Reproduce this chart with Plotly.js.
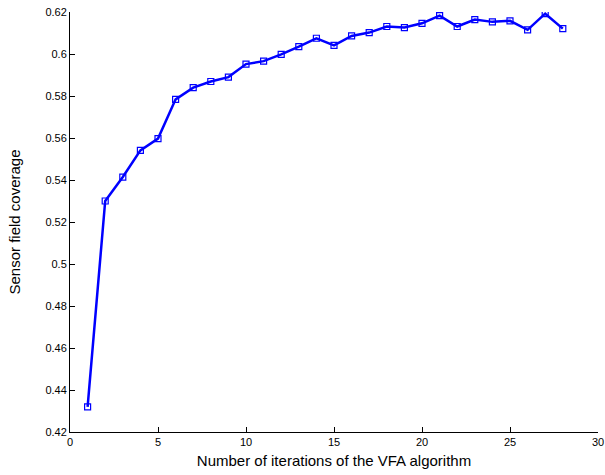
<!DOCTYPE html>
<html>
<head>
<meta charset="utf-8">
<script src="https://cdn.plot.ly/plotly-3.0.1.min.js"></script>
<style>html,body{margin:0;padding:0;background:#fff;}#chart{width:605px;height:475px;}</style>
</head>
<body>
<div id="chart"></div>
<script>
const iterations = [1,2,3,4,5,6,7,8,9,10,11,12,13,14,15,16,17,18,19,20,21,22,23,24,25,26,27,28];
const coverage = [0.432,0.530,0.5414,0.5541,0.5597,0.5784,0.584,0.5869,0.589,0.5952,0.5966,0.5998,0.6035,0.6075,0.6041,0.6086,0.6102,0.6131,0.6126,0.6146,0.6183,0.6131,0.6164,0.6153,0.6158,0.6115,0.6192,0.6121];
const xTickVals = [0,5,10,15,20,25,30];
const yTickVals = [0.42,0.44,0.46,0.48,0.5,0.52,0.54,0.56,0.58,0.6,0.62];
const yTickText = ["0.42","0.44","0.46","0.48","0.5","0.52","0.54","0.56","0.58","0.6","0.62"];

const trace = {
  x: iterations, y: coverage, type: 'scatter', mode: 'lines+markers',
  line: {color: '#0000ff', width: 2.5},
  marker: {symbol: 'square-open', size: 6, color: '#0000ff', line: {width: 1.2, color: '#0000ff'}},
  hoverinfo: 'none'
};
const font = {family: 'Liberation Sans, Arial, sans-serif', color: '#000'};
const layout = {
  width: 605, height: 475,
  margin: {l: 70, r: 7, t: 12, b: 43},
  paper_bgcolor: '#fff', plot_bgcolor: '#fff',
  showlegend: false,
  font: Object.assign({size: 11}, font),
  xaxis: {
    range: [0, 30], tickvals: xTickVals, ticks: 'inside', ticklen: 5, tickwidth: 1, tickcolor: '#000',
    showline: true, linecolor: '#000', linewidth: 1, mirror: false, showgrid: false, zeroline: false,
    tickfont: Object.assign({size: 11}, font),
    title: {text: 'Number of iterations of the VFA algorithm', font: Object.assign({size: 15}, font), standoff: 8}
  },
  yaxis: {
    range: [0.42, 0.62], tickvals: yTickVals, ticktext: yTickText, ticks: 'inside', ticklen: 5, tickwidth: 1, tickcolor: '#000',
    showline: true, linecolor: '#000', linewidth: 1, mirror: false, showgrid: false, zeroline: false,
    tickfont: Object.assign({size: 11}, font),
    title: {text: 'Sensor field coverage', font: Object.assign({size: 15}, font), standoff: 21}
  }
};
Plotly.newPlot('chart', [trace], layout, {staticPlot: true, displayModeBar: false});
</script>
</body>
</html>
